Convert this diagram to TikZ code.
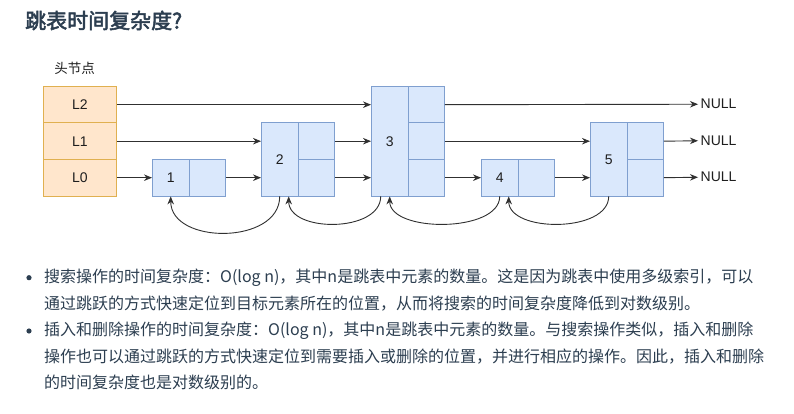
\documentclass[tikz,border=0pt]{standalone}
\usepackage{fontspec}
\setmainfont{Liberation Sans}
\newfontfamily\cjk{Noto Sans CJK SC}
\newfontfamily\cjkb[FakeBold=2.5]{Noto Sans CJK SC}
\usetikzlibrary{arrows.meta,calc}
\definecolor{txt}{HTML}{2C3E50}
\definecolor{bfill}{HTML}{DAE8FC}
\definecolor{bline}{HTML}{7F9FCF}
\definecolor{ofill}{HTML}{FFE6CC}
\definecolor{oline}{HTML}{E0B050}
\definecolor{arr}{HTML}{303030}
\definecolor{lbl}{HTML}{1E1E1E}
\begin{document}
\begin{tikzpicture}[x=1pt,y=-1pt,
  cellbase/.style={draw, line width=0.9pt, inner sep=0pt, anchor=north west,
    minimum width=36.5pt, minimum height=36.5pt, text=lbl,
    font=\fontsize{14}{16}\selectfont},
  bcell/.style={cellbase, draw=bline, fill=bfill},
  hcell/.style={cellbase, draw=oline, fill=ofill, minimum width=73pt},
  ptr/.style={draw=arr, line width=0.9pt, -{Stealth[length=8pt,width=6.5pt]}},
  nulltxt/.style={anchor=west, inner sep=2.5pt, text=lbl, font=\fontsize{14}{16}\selectfont},
  body/.style={anchor=west, inner sep=0pt, text=txt, font=\cjk\fontsize{16}{16}\selectfont},
  bullet/.style={circle, fill=txt, inner sep=0pt, minimum size=5.2pt}
]
\useasboundingbox[fill=white] (0,0) rectangle (794,414);

% title
\node[anchor=west, inner sep=0pt, text=txt, font=\cjkb\fontsize{21}{21}\selectfont] (title) at (25,20.5) {跳表时间复杂度?};

% head
\node[inner sep=0pt, text=lbl, font=\cjk\fontsize{13.5}{14}\selectfont] (headlbl) at (74.7,68.3) {头节点};
\node[hcell] (h2) at (43,86) {L2};
\node[hcell] (h1) at (43,122.5) {L1};
\node[hcell] (h0) at (43,159) {L0};

% node 1
\node[bcell] (n1k) at (152,159) {1};
\node[bcell] (n1p0) at (188.5,159) {};
% node 2
\node[bcell, minimum height=73pt] (n2k) at (261,122.5) {2};
\node[bcell] (n2p1) at (297.5,122.5) {};
\node[bcell] (n2p0) at (297.5,159) {};
% node 3
\node[bcell, minimum height=109.5pt] (n3k) at (371,86) {3};
\node[bcell] (n3p2) at (407.5,86) {};
\node[bcell] (n3p1) at (407.5,122.5) {};
\node[bcell] (n3p0) at (407.5,159) {};
% node 4
\node[bcell] (n4k) at (481,159) {4};
\node[bcell] (n4p0) at (517.5,159) {};
% node 5
\node[bcell, minimum height=73pt] (n5k) at (590,122.5) {5};
\node[bcell] (n5p1) at (626.5,122.5) {};
\node[bcell] (n5p0) at (626.5,159) {};

% NULLs
\node[nulltxt] (null2) at (698,104.25) {NULL};
\node[nulltxt] (null1) at (698,140.75) {NULL};
\node[nulltxt] (null0) at (698,177.25) {NULL};

% level 2
\draw[ptr] (h2.east) -- (h2.east -| n3k.west);
\draw[ptr] (n3p2.east) -- (null2.west);
% level 1
\draw[ptr] (h1.east) -- (h1.east -| n2k.west);
\draw[ptr] (n2p1.east) -- (n2p1.east -| n3k.west);
\draw[ptr] (n3p1.east) -- (n3p1.east -| n5k.west);
\draw[ptr] (n5p1.east) -- (null1.west);
% level 0
\draw[ptr] (h0.east) -- (n1k.west);
\draw[ptr] (n1p0.east) -- (n1p0.east -| n2k.west);
\draw[ptr] (n2p0.east) -- (n2p0.east -| n3k.west);
\draw[ptr] (n3p0.east) -- (n4k.west);
\draw[ptr] (n4p0.east) -- (n4p0.east -| n5k.west);
\draw[ptr] (n5p0.east) -- (null0.west);

% backward curves
\draw[ptr] (n2k.south) .. controls ($(n2k.south)+(0,48.5)$) and ($(n1k.south)+(0,48.5)$) .. (n1k.south);
\draw[ptr] ($(n3k.south)+(-9,0)$) .. controls ($(n3k.south)+(-9,36.5)$) and ($(n2k.south)+(9,36.5)$) .. ($(n2k.south)+(9,0)$);
\draw[ptr] (n4k.south) .. controls ($(n4k.south)+(0,36.5)$) and ($(n3k.south)+(0,36.5)$) .. (n3k.south);
\draw[ptr] (n5k.south) .. controls ($(n5k.south)+(0,36.5)$) and ($(n4k.south)+(9,36.5)$) .. ($(n4k.south)+(9,0)$);

% bullet list
\node[bullet] (b1) at (29,277.7) {};
\node[bullet] (b2) at (29,331) {};
\node[body] (t1) at (44,277.7) {搜索操作的时间复杂度：O(log n)，其中n是跳表中元素的数量。这是因为跳表中使用多级索引，可以};
\node[body] (t2) at (44,303.5) {通过跳跃的方式快速定位到目标元素所在的位置，从而将搜索的时间复杂度降低到对数级别。};
\node[body] (t3) at (44,331) {插入和删除操作的时间复杂度：O(log n)，其中n是跳表中元素的数量。与搜索操作类似，插入和删除};
\node[body] (t4) at (44,357) {操作也可以通过跳跃的方式快速定位到需要插入或删除的位置，并进行相应的操作。因此，插入和删除};
\node[body] (t5) at (44,382) {的时间复杂度也是对数级别的。};
\end{tikzpicture}
\end{document}
